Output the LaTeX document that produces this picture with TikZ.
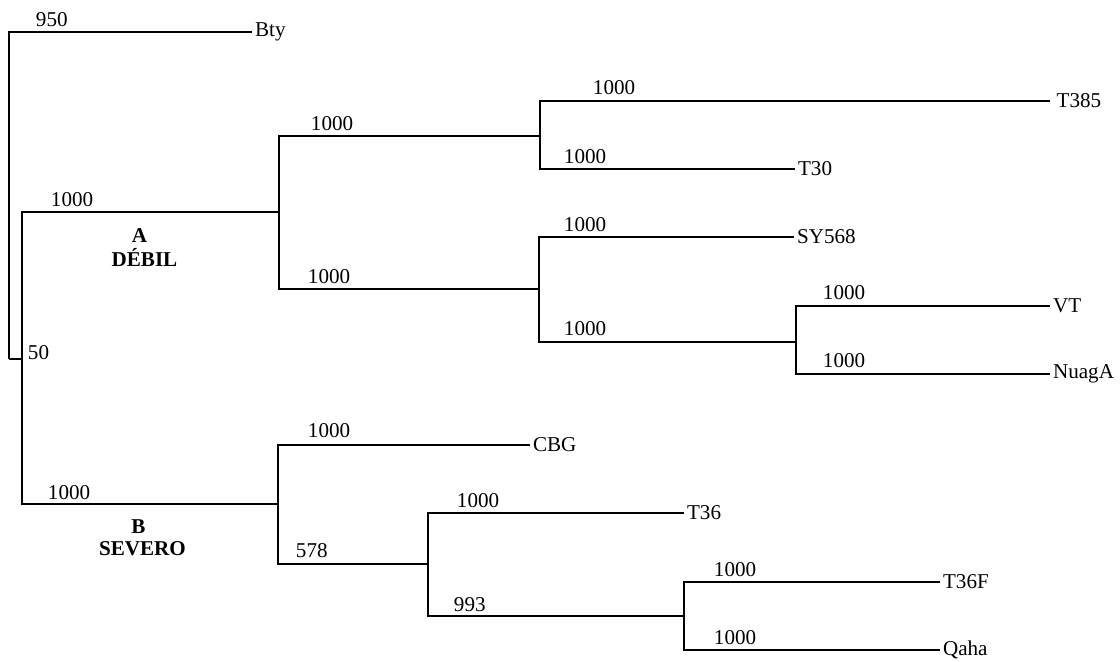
\documentclass[tikz,border=0pt]{standalone}
\usepackage{fontspec}
\setmainfont{Liberation Serif}

\begin{document}
\begin{tikzpicture}[
            x=0.025cm, y=-0.025cm,
            line width=1.4pt,
            taxon/.style={anchor=west, inner sep=1.5pt, font=\fontsize{15}{18}\selectfont},
            boot/.style={anchor=base west, inner sep=0pt, font=\fontsize{15}{18}\selectfont},
            clade/.style={anchor=base, inner sep=0pt, font=\fontsize{15}{18}\selectfont\bfseries}
        ]
            \useasboundingbox (0,0) rectangle (1120,662);
            % internal nodes
            \coordinate (root) at (9,359);
            \coordinate (nAB) at (22,359);
            \coordinate (nA) at (279,212);
            \coordinate (nA1) at (540,136);
            \coordinate (nA2) at (539,289);
            \coordinate (nA3) at (796,342);
            \coordinate (nB) at (278,504);
            \coordinate (nB1) at (428,564);
            \coordinate (nB2) at (684,616);
            % leaves
            \node[taxon] (Bty) at (252,32) {Bty};
            \node[taxon] (T385) at (1050,101) {\,T385};
            \node[taxon] (T30) at (795,169) {T30};
            \node[taxon] (SY568) at (794,237) {SY568};
            \node[taxon] (VT) at (1050,306) {VT};
            \node[taxon] (NuagA) at (1050,374) {NuagA};
            \node[taxon] (CBG) at (530,445) {CBG};
            \node[taxon] (T36) at (684,513) {T36};
            \node[taxon] (T36F) at (940,582) {T36F};
            \node[taxon] (Qaha) at (940,650) {Qaha};
            % branches
            \draw (root) |- (Bty.west);
            \draw (root) -- (nAB);
            \draw (nAB) |- (nA);
            \draw (nAB) |- (nB);
            \draw (nA) |- (nA1);
            \draw (nA) |- (nA2);
            \draw (nA1) |- (T385.west);
            \draw (nA1) |- (T30.west);
            \draw (nA2) |- (SY568.west);
            \draw (nA2) |- (nA3);
            \draw (nA3) |- (VT.west);
            \draw (nA3) |- (NuagA.west);
            \draw (nB) |- (CBG.west);
            \draw (nB) |- (nB1);
            \draw (nB1) |- (T36.west);
            \draw (nB1) |- (nB2);
            \draw (nB2) |- (T36F.west);
            \draw (nB2) |- (Qaha.west);
            % bootstrap values
            \foreach \name/\x/\y/\val in {bBty/35/27/950, bAB/27/360/50, bA/50/207/1000,
                bA1/310/131/1000, bT385/592/95/1000, bT30/563/164/1000,
                bA2/307/284/1000, bSY568/563/232/1000, bA3/563/336/1000,
                bVT/822/300/1000, bNuagA/822/368/1000, bB/47/499/1000,
                bCBG/307/438/1000, bB1/295/558/578, bT36/456/507/1000,
                bB2/453/611/993, bT36F/713/576/1000, bQaha/713/644/1000}
                \node[boot] (\name) at (\x,\y) {\val};
            % clade labels
            \node[clade] (cladeA) at (139.5,243) {A};
            \node[clade] (cladeAname) at (144.5,267) {DÉBIL};
            \node[clade] (cladeB) at (138.5,533) {B};
            \node[clade] (cladeBname) at (142.5,555) {SEVERO};
        \end{tikzpicture}
\end{document}
